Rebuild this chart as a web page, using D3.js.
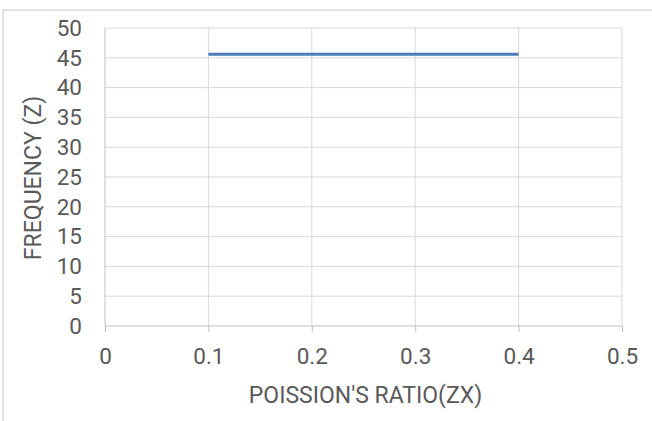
<!DOCTYPE html>
<html><head><meta charset="utf-8">
<script src="https://cdn.jsdelivr.net/npm/d3@7"></script>
<style>
body{margin:0;background:#fff;}
text{font-family:Roboto,"Liberation Sans",sans-serif;fill:#595959;}
</style></head><body>
<svg id="c" width="652" height="421"></svg>
<script>
const poissonRatio = [0.1, 0.2, 0.3, 0.4];
const frequency = [45.6, 45.6, 45.6, 45.6];
const xTicks = [0, 0.1, 0.2, 0.3, 0.4, 0.5];
const yTicks = [0, 5, 10, 15, 20, 25, 30, 35, 40, 45, 50];
const xTitle = "POISSION'S RATIO(ZX)";
const yTitle = "FREQUENCY (Z)";

const svg = d3.select("#c");
const x = d3.scaleLinear().domain([0, 0.5]).range([105, 622]);
const y = d3.scaleLinear().domain([0, 50]).range([326, 28]);
const FS = 22.5;

// outer frame (partial)
svg.append("path").attr("d","M3,421V10H652").attr("fill","none").attr("stroke","#d9d9d9").attr("stroke-width",1.5);

// gridlines
svg.append("g").selectAll("line").data(yTicks.filter(d=>d>0)).join("line")
  .attr("x1",x(0)).attr("x2",x(0.5)).attr("y1",d=>y(d)).attr("y2",d=>y(d))
  .attr("stroke","#d9d9d9").attr("stroke-width",1);
svg.append("g").selectAll("line").data(xTicks.filter(d=>d>0)).join("line")
  .attr("y1",y(0)).attr("y2",y(50)).attr("x1",d=>x(d)).attr("x2",d=>x(d))
  .attr("stroke","#d9d9d9").attr("stroke-width",1);

// x axis
const xa = svg.append("g").attr("transform",`translate(0,${y(0)})`)
  .call(d3.axisBottom(x).tickValues(xTicks).tickFormat(d3.format("")).tickSize(6).tickPadding(16));
xa.select(".domain").attr("stroke","#bfbfbf").attr("d",`M${x(0)},0H${x(0.5)}`);
xa.selectAll(".tick line").attr("stroke","#bfbfbf");
xa.selectAll("text").attr("font-size",FS).attr("fill","#595959").attr("font-family",null);

// y axis
const ya = svg.append("g").attr("transform",`translate(${x(0)},0)`)
  .call(d3.axisLeft(y).tickValues(yTicks).tickSize(0).tickPadding(23));
ya.selectAll("text").attr("font-size",FS).attr("fill","#595959").attr("font-family",null);
ya.select(".domain").remove();
svg.append("line").attr("x1",x(0)).attr("x2",x(0)).attr("y1",y(0)).attr("y2",y(50)).attr("stroke","#bfbfbf");

// line
const line = d3.line().x((d,i)=>x(poissonRatio[i])).y(d=>y(d));
svg.append("path").datum(frequency).attr("d",line).attr("fill","none")
  .attr("stroke","#4a7ebb").attr("stroke-width",3);

// titles
svg.append("text").attr("x",(x(0)+x(0.5))/2 + 2).attr("y",403).attr("text-anchor","middle")
  .attr("font-size",FS + 0.5).text(xTitle);
svg.append("text").attr("transform",`translate(41,178) rotate(-90)`).attr("text-anchor","middle")
  .attr("font-size",FS + 0.5).text(yTitle);
</script></body></html>
